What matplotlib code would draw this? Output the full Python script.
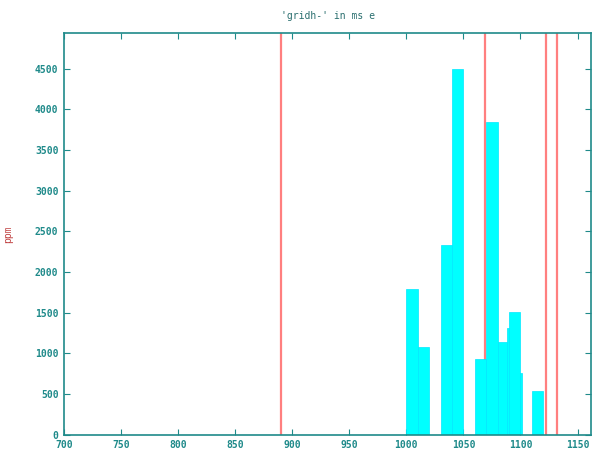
import matplotlib.pyplot as plt

# histogram boxes (left edge, width, height in ppm)
box_left = [1000, 1010, 1030, 1040, 1060, 1070, 1080, 1088, 1090, 1100, 1110]
box_width = [10, 10, 10, 10, 10, 10, 8, 2, 10, 1.5, 10]
box_ppm = [1790, 1080, 2330, 4500, 930, 3840, 1140, 1310, 1510, 760, 540]

# red marker lines
marker_x = [890, 1069, 1122, 1132]

xticks = list(range(700, 1151, 50))
yticks = list(range(0, 4501, 500))

teal = '#1f8a8a'
mono = 'DejaVu Sans Mono'

fig = plt.figure(figsize=(5.93, 4.51), dpi=100)
ax = fig.add_axes([0.108, 0.036, 0.889, 0.891])

for x in marker_x:
    ax.axvline(x, color='#ff7f7f', linewidth=1.6, zorder=1)

ax.bar(box_left, box_ppm, width=box_width, align='edge', color='#00ffff',
       edgecolor='#00e8ff', linewidth=0.5, zorder=2)

ax.set_xlim(700, 1162)
ax.set_ylim(0, 4940)
ax.set_xticks(xticks)
ax.set_yticks(yticks)
ax.tick_params(direction='in', length=4, color=teal, labelcolor=teal,
               labelsize=7, top=True, right=True, pad=4)
for lab in ax.get_xticklabels() + ax.get_yticklabels():
    lab.set_family(mono)
    lab.set_fontweight('bold')

for s in ax.spines.values():
    s.set_color(teal)
    s.set_linewidth(1.2)
    s.set_zorder(3)

ax.set_title("'gridh-' in ms e", fontsize=7, family=mono, color='#2a6f6f', pad=10)
ax.set_ylabel('ppm', fontsize=7, family=mono, color='#c04040')
ax.yaxis.set_label_coords(-0.097, 0.5)

fig.savefig('out.png', dpi=100)
